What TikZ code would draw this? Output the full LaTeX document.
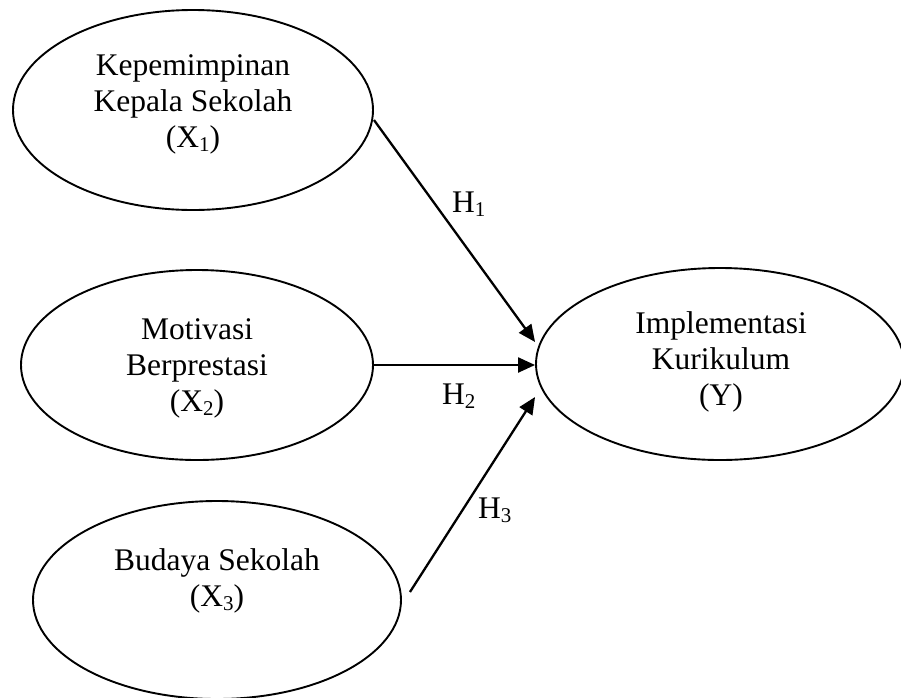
\documentclass[tikz,border=0pt]{standalone}
\usepackage{fontspec}
\setmainfont{Liberation Serif}
\usetikzlibrary{shapes.geometric,arrows.meta}
\newcommand{\sbs}[1]{\raisebox{-0.13em}{\fontsize{21}{21}\selectfont #1}}
\tikzset{
  var/.style={ellipse, draw, line width=1.9pt, inner sep=0pt},
  txt/.style={align=center, inner sep=0pt, font=\fontsize{31.5}{36}\selectfont},
  hlbl/.style={anchor=base west, inner sep=0pt, font=\fontsize{31.5}{36}\selectfont},
  arr/.style={line width=2.3pt, -{Triangle[length=17pt,width=15pt]}}
}
\begin{document}
\begin{tikzpicture}[x=1pt,y=-1pt]
\useasboundingbox (0,0) rectangle (901,697);
\node[var, minimum width=360pt, minimum height=200pt] (e1) at (193,110) {};
\node[var, minimum width=352pt, minimum height=190pt] (e2) at (197,365) {};
\node[var, minimum width=368pt, minimum height=198pt] (e3) at (217,600) {};
\node[var, minimum width=368pt, minimum height=192pt] (e4) at (720,364) {};
\node[txt] (t1) at (193,104.5) {Kepemimpinan\\Kepala Sekolah\\(X\sbs{1})};
\node[txt] (t2) at (197,368) {Motivasi\\Berprestasi\\(X\sbs{2})};
\node[txt] (t3) at (217,581) {Budaya Sekolah\\(X\sbs{3})};
\node[txt] (t4) at (721,362) {Implementasi\\Kurikulum\\(Y)};
\draw[arr] ([yshift=-10pt]e1.east) -- ([yshift=22pt]e4.west);
\draw[arr] (e2.east) -- (e2.east -| e4.west);
\draw[arr] ([xshift=8pt,yshift=8pt]e3.east) -- ([yshift=-33pt]e4.west);
\node[hlbl] (h1) at (452,212) {H\sbs{1}};
\node[hlbl] (h2) at (442,404) {H\sbs{2}};
\node[hlbl] (h3) at (478,518) {H\sbs{3}};
\end{tikzpicture}
\end{document}
